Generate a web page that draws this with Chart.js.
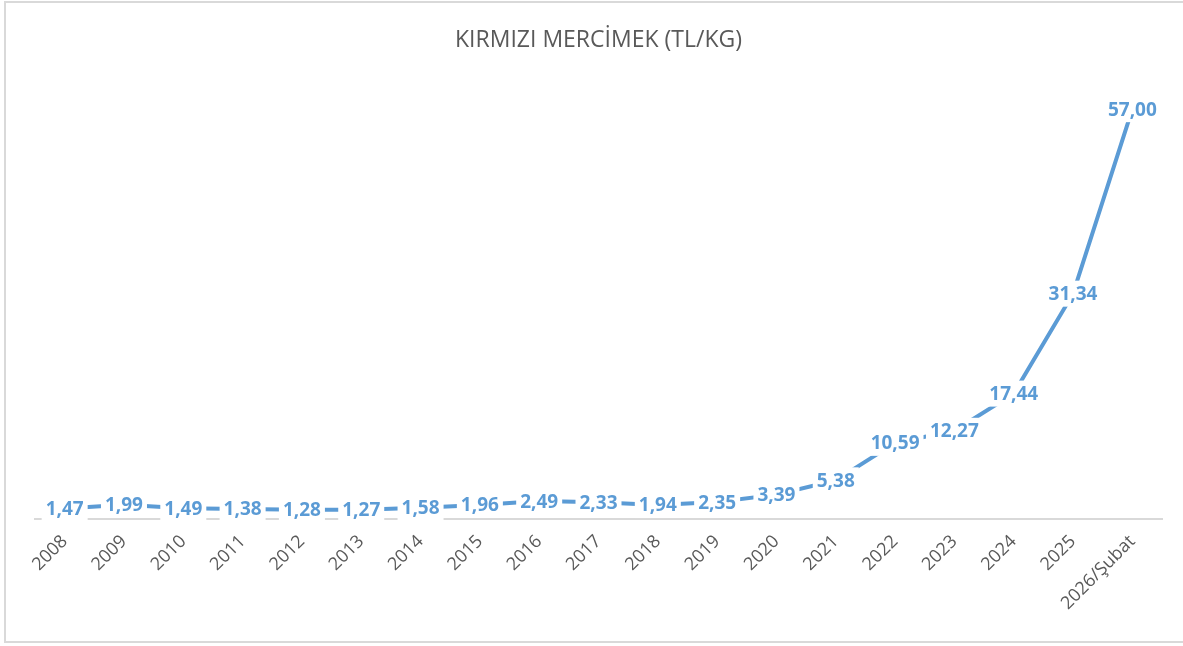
<!DOCTYPE html>
<html>
<head>
<meta charset="utf-8">
<script src="https://cdn.jsdelivr.net/npm/chart.js@4"></script>
<style>
  html, body { margin: 0; padding: 0; background: #fff; }
  #wrap { position: relative; width: 1183px; height: 646px; overflow: hidden; }
  #frame { position: absolute; left: 4px; top: 1px; width: 1190px; height: 642px; border: 2px solid #d9d9d9; box-sizing: border-box; }
  #box { position: absolute; left: 0; top: 0; width: 1183px; height: 646px; }
</style>
</head>
<body>
<div id="wrap">
  <div id="frame"></div>
  <div id="box"><canvas id="lineChart"></canvas></div>
</div>
<script>
const years = ["2008", "2009", "2010", "2011", "2012", "2013", "2014", "2015", "2016", "2017",
  "2018", "2019", "2020", "2021", "2022", "2023", "2024", "2025", "2026/Şubat"];
const prices = [1.47, 1.99, 1.49, 1.38, 1.28, 1.27, 1.58, 1.96, 2.49, 2.33,
  1.94, 2.35, 3.39, 5.38, 10.59, 12.27, 17.44, 31.34, 57.00];

const blue = "#5B9BD5";
const gray = "#595959";

// labels centred on points, white box behind (like Excel)
const valueLabels = {
  id: "valueLabels",
  afterDraw(chart) {
    const ctx = chart.ctx;
    const meta = chart.getDatasetMeta(0);
    ctx.save();
    ctx.font = "bold 19px 'Open Sans'";
    ctx.textAlign = "center";
    ctx.textBaseline = "middle";
    meta.data.forEach((pt, i) => {
      const txt = prices[i].toFixed(2).replace(".", ",");
      const w = ctx.measureText(txt).width;
      ctx.fillStyle = "#fff";
      ctx.fillRect(pt.x - w / 2 - 4, pt.y - 13, w + 8, 26);
      ctx.fillStyle = blue;
      ctx.fillText(txt, pt.x, pt.y + 1);
    });
    ctx.restore();
  }
};

const lineChart = new Chart(document.getElementById("lineChart"), {
  type: "line",
  data: {
    labels: years,
    datasets: [{
      data: prices,
      borderColor: blue,
      borderWidth: 4,
      pointRadius: 0,
      tension: 0
    }]
  },
  options: {
    responsive: true,
    maintainAspectRatio: false,
    animation: false,
    layout: { padding: { left: 35, right: 21, top: 0, bottom: 0 } },
    plugins: {
      legend: { display: false },
      tooltip: { enabled: false },
      title: {
        display: true,
        text: "KIRMIZI MERCİMEK (TL/KG)",
        color: gray,
        font: { family: "'Open Sans'", size: 23, weight: "normal" },
        padding: { top: 27, bottom: 33 }
      }
    },
    scales: {
      x: {
        offset: true,
        grid: { display: false },
        border: { display: true, color: "#d9d9d9", width: 2 },
        ticks: {
          color: gray,
          font: { family: "'Open Sans'", size: 18 },
          minRotation: 45,
          maxRotation: 45,
          padding: 4
        },
        afterFit(scale) { scale.height = 127; }
      },
      y: {
        display: false,
        min: 0,
        max: 60
      }
    }
  },
  plugins: [valueLabels]
});
</script>
</body>
</html>
